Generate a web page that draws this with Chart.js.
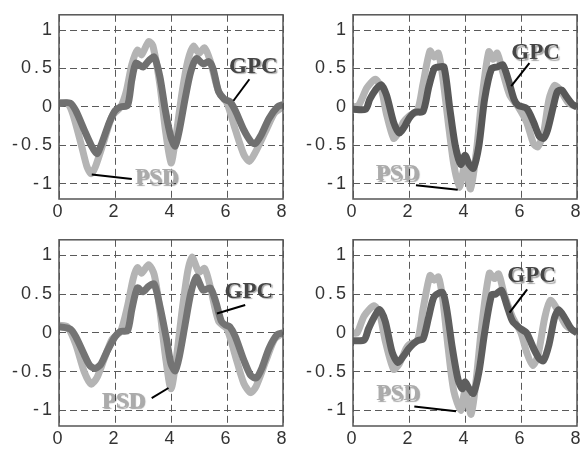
<!DOCTYPE html>
<html lang="en">
<head>
<meta charset="UTF-8">
<title>PSD vs GPC</title>
<script src="https://cdn.jsdelivr.net/npm/chart.js"></script>
<style>
  body { margin: 0; background: #fff; }
  #wrap { position: relative; width: 586px; height: 450px; }
  canvas { position: absolute; }
</style>
</head>
<body>
<div id="wrap">
  <canvas id="tl" width="293" height="225" style="left:0;top:0"></canvas>
  <canvas id="tr" width="293" height="225" style="left:293px;top:0"></canvas>
  <canvas id="bl" width="293" height="225" style="left:0;top:225px"></canvas>
  <canvas id="br" width="293" height="225" style="left:293px;top:225px"></canvas>
</div>
<script>
// tick values shared by all four panels
const xTicks = [0, 2, 4, 6, 8];
const yTicks = [-1, -0.5, 0, 0.5, 1];

// top left
const tlPsdX = [0, 0.3, 0.5, 0.8, 1.0, 1.15, 1.3, 1.6, 1.9, 2.2, 2.4, 2.6, 2.8, 2.95, 3.2, 3.35, 3.6, 3.8, 4.0, 4.15, 4.4, 4.6, 4.8, 5.0, 5.2, 5.4, 5.7, 6.0, 6.3, 6.6, 6.8, 7.0, 7.4, 7.7, 8.0];
const tlPsdY = [0.05, 0.05, -0.1, -0.5, -0.78, -0.87, -0.78, -0.45, -0.12, 0.0, 0.2, 0.55, 0.74, 0.68, 0.85, 0.8, 0.3, -0.3, -0.73, -0.45, 0.2, 0.6, 0.79, 0.7, 0.77, 0.6, 0.2, 0.05, -0.3, -0.62, -0.71, -0.6, -0.3, -0.08, 0.0];
const tlGpcX = [0, 0.4, 0.6, 0.9, 1.15, 1.35, 1.5, 1.8, 2.0, 2.2, 2.45, 2.6, 2.75, 3.0, 3.2, 3.4, 3.6, 3.8, 4.0, 4.15, 4.3, 4.5, 4.7, 4.9, 5.15, 5.35, 5.5, 5.7, 5.9, 6.1, 6.3, 6.6, 6.85, 7.0, 7.2, 7.5, 7.8, 8.0];
const tlGpcY = [0.05, 0.05, -0.05, -0.3, -0.5, -0.61, -0.5, -0.2, -0.05, 0.0, 0.02, 0.35, 0.57, 0.52, 0.6, 0.65, 0.4, -0.05, -0.4, -0.51, -0.3, 0.1, 0.45, 0.63, 0.56, 0.59, 0.5, 0.2, 0.1, 0.07, -0.05, -0.3, -0.45, -0.48, -0.38, -0.15, 0.0, 0.03];

// top right
const trPsdX = [0, 0.2, 0.5, 0.8, 1.0, 1.2, 1.45, 1.6, 1.8, 2.0, 2.3, 2.5, 2.75, 2.9, 3.05, 3.2, 3.4, 3.6, 3.8, 4.0, 4.2, 4.4, 4.6, 4.85, 5.0, 5.15, 5.35, 5.6, 5.9, 6.2, 6.45, 6.6, 6.8, 7.0, 7.2, 7.4, 7.7, 8.0];
const trPsdY = [0.0, 0.02, 0.25, 0.36, 0.25, -0.1, -0.41, -0.35, -0.2, -0.12, -0.05, 0.3, 0.73, 0.65, 0.7, 0.4, -0.2, -0.75, -1.05, -0.75, -1.07, -0.6, 0.1, 0.72, 0.62, 0.7, 0.45, 0.15, 0.0, -0.2, -0.48, -0.52, -0.35, 0.1, 0.28, 0.22, 0.05, 0.0];
const trGpcX = [0, 0.45, 0.6, 0.8, 1.0, 1.2, 1.45, 1.65, 1.85, 2.0, 2.2, 2.5, 2.7, 2.9, 3.05, 3.25, 3.45, 3.65, 3.85, 4.0, 4.15, 4.3, 4.5, 4.7, 4.95, 5.15, 5.35, 5.55, 5.75, 5.9, 6.2, 6.45, 6.65, 6.8, 6.95, 7.15, 7.3, 7.45, 7.65, 7.85, 8.0];
const trGpcY = [-0.03, -0.03, 0.1, 0.22, 0.29, 0.15, -0.2, -0.34, -0.25, -0.15, -0.07, -0.06, 0.25, 0.5, 0.52, 0.52, 0.0, -0.5, -0.75, -0.63, -0.75, -0.8, -0.5, 0.1, 0.5, 0.52, 0.55, 0.35, 0.1, 0.02, -0.02, -0.2, -0.38, -0.41, -0.3, 0.0, 0.2, 0.22, 0.12, 0.03, 0.0];

// bottom left
const blPsdX = [0, 0.3, 0.6, 0.9, 1.15, 1.35, 1.6, 1.9, 2.2, 2.45, 2.65, 2.8, 2.95, 3.2, 3.4, 3.6, 3.8, 4.0, 4.2, 4.4, 4.6, 4.75, 5.0, 5.2, 5.4, 5.7, 6.0, 6.3, 6.6, 6.85, 7.05, 7.4, 7.7, 8.0];
const blPsdY = [0.1, 0.08, -0.15, -0.5, -0.66, -0.58, -0.35, -0.08, 0.02, 0.35, 0.7, 0.84, 0.77, 0.88, 0.75, 0.3, -0.3, -0.72, -0.3, 0.3, 0.8, 0.98, 0.78, 0.83, 0.6, 0.15, 0.05, -0.3, -0.65, -0.77, -0.68, -0.35, -0.08, 0.0];
const blGpcX = [0, 0.4, 0.6, 0.9, 1.1, 1.3, 1.5, 1.7, 2.0, 2.2, 2.45, 2.6, 2.8, 3.0, 3.2, 3.4, 3.6, 3.85, 4.0, 4.15, 4.3, 4.5, 4.7, 4.9, 5.15, 5.4, 5.6, 5.8, 5.95, 6.1, 6.3, 6.6, 6.85, 7.05, 7.25, 7.5, 7.8, 8.0];
const blGpcY = [0.08, 0.05, -0.05, -0.28, -0.42, -0.46, -0.4, -0.25, -0.05, 0.02, 0.03, 0.3, 0.58, 0.53, 0.6, 0.63, 0.35, -0.1, -0.4, -0.49, -0.3, 0.1, 0.5, 0.72, 0.55, 0.58, 0.4, 0.15, 0.1, 0.08, -0.05, -0.35, -0.55, -0.58, -0.45, -0.2, -0.02, 0.0];

// bottom right
const brPsdX = [0, 0.15, 0.4, 0.75, 0.95, 1.15, 1.45, 1.65, 1.9, 2.0, 2.3, 2.5, 2.75, 2.9, 3.05, 3.2, 3.4, 3.6, 3.85, 4.0, 4.22, 4.4, 4.6, 4.87, 5.05, 5.2, 5.4, 5.7, 6.0, 6.2, 6.42, 6.6, 6.85, 7.05, 7.3, 7.6, 8.0];
const brPsdY = [0.0, 0.0, 0.22, 0.35, 0.25, -0.1, -0.47, -0.4, -0.2, -0.15, -0.1, 0.3, 0.74, 0.68, 0.72, 0.45, -0.2, -0.75, -1.0, -0.75, -1.05, -0.6, 0.1, 0.77, 0.7, 0.76, 0.5, 0.2, 0.0, -0.25, -0.42, -0.3, 0.2, 0.42, 0.3, 0.1, 0.0];
const brGpcX = [0, 0.4, 0.55, 0.75, 0.95, 1.15, 1.4, 1.6, 1.8, 2.0, 2.3, 2.5, 2.7, 2.9, 3.2, 3.35, 3.55, 3.75, 3.9, 4.0, 4.15, 4.3, 4.5, 4.7, 4.95, 5.1, 5.3, 5.5, 5.7, 6.0, 6.2, 6.45, 6.65, 6.8, 7.0, 7.2, 7.35, 7.55, 7.8, 8.0];
const brGpcY = [-0.1, -0.09, 0.05, 0.2, 0.3, 0.15, -0.25, -0.38, -0.3, -0.2, -0.1, -0.08, 0.2, 0.47, 0.52, 0.3, -0.2, -0.6, -0.72, -0.63, -0.72, -0.78, -0.5, 0.0, 0.49, 0.5, 0.55, 0.35, 0.15, 0.05, 0.0, -0.2, -0.33, -0.36, -0.15, 0.2, 0.3, 0.2, 0.05, 0.0];

// annotation: text x, text y, line from x,y to x,y (data units)
const tlGpcNote = [6.94, 0.52, 6.8, 0.36, 6.23, 0.08];
const tlPsdNote = [3.49, -0.93, 2.6, -0.94, 1.17, -0.88];
const trGpcNote = [6.52, 0.7, 6.3, 0.57, 5.65, 0.27];
const trPsdNote = [1.59, -0.88, 2.25, -1.02, 3.74, -1.08];
const blGpcNote = [6.78, 0.53, 6.65, 0.36, 5.64, 0.25];
const blPsdNote = [2.3, -0.89, 3.31, -0.84, 3.91, -0.71];
const brGpcNote = [6.38, 0.73, 6.22, 0.56, 5.59, 0.26];
const brPsdNote = [1.61, -0.79, 2.19, -0.95, 3.68, -1.01];

const psdColor = '#b4b4b4';
const tickFont = { family: '"Liberation Sans", Arial, sans-serif', size: 18 };

const pts = (xs, ys) => xs.map((x, i) => ({ x: x, y: ys[i] }));

// frame + labels with leader lines
const decor = {
  id: 'decor',
  beforeDraw(chart) {
    chart.ctx.letterSpacing = '3px';
  },
  beforeDatasetsDraw(chart) {
    chart.ctx.letterSpacing = '0px';
  },
  afterDraw(chart) {
    const ctx = chart.ctx, a = chart.chartArea;
    const sx = chart.scales.x, sy = chart.scales.y;
    ctx.save();
    ctx.letterSpacing = '0px';
    ctx.strokeStyle = '#555';
    ctx.lineWidth = 1.5;
    ctx.strokeRect(a.left, a.top, a.right - a.left, a.bottom - a.top);
    chart.options.plugins.decor.notes.forEach(n => {
      const v = n.v;
      ctx.strokeStyle = '#000';
      ctx.lineWidth = 2;
      ctx.beginPath();
      ctx.moveTo(sx.getPixelForValue(v[2]), sy.getPixelForValue(v[3]));
      ctx.lineTo(sx.getPixelForValue(v[4]), sy.getPixelForValue(v[5]));
      ctx.stroke();
      ctx.font = 'bold 23px "Liberation Serif", "Times New Roman", serif';
      ctx.textAlign = 'center';
      ctx.textBaseline = 'middle';
      ctx.shadowColor = 'rgba(0,0,0,0.35)';
      ctx.shadowOffsetX = 1.5;
      ctx.shadowOffsetY = 1.5;
      ctx.shadowBlur = 1;
      ctx.fillStyle = n.color;
      ctx.fillText(n.text, sx.getPixelForValue(v[0]), sy.getPixelForValue(v[1]));
      ctx.shadowColor = 'transparent';
    });
    ctx.restore();
  }
};

function makePanel(id, psdX, psdY, gpcX, gpcY, gpcColor, gpcNote, psdNote, box) {
  new Chart(document.getElementById(id), {
    type: 'line',
    data: {
      datasets: [
        { label: 'GPC', data: pts(gpcX, gpcY), borderColor: gpcColor, borderWidth: 7,
          pointRadius: 0, tension: 0.25, clip: 0, borderJoinStyle: 'round' },
        { label: 'PSD', data: pts(psdX, psdY), borderColor: psdColor, borderWidth: 7,
          pointRadius: 0, tension: 0.25, clip: 0, borderJoinStyle: 'round' }
      ]
    },
    options: {
      responsive: false,
      animation: false,
      layout: { padding: { top: box.top, right: box.right, left: 0, bottom: 0 } },
      plugins: {
        legend: { display: false },
        tooltip: { enabled: false },
        decor: { notes: [
          { text: 'GPC', color: '#454545', v: gpcNote },
          { text: 'PSD', color: '#ababab', v: psdNote }
        ] }
      },
      scales: {
        x: {
          type: 'linear', min: 0, max: 8,
          afterBuildTicks: s => { s.ticks = xTicks.map(v => ({ value: v })); },
          afterFit: s => { s.height = box.xh; },
          grid: { color: '#5a5a5a', lineWidth: 1, drawTicks: false },
          border: { display: false, dash: [7, 4] },
          ticks: { color: '#333', font: tickFont, padding: 2, maxRotation: 0, callback: v => String(v) }
        },
        y: {
          type: 'linear', min: -1.2, max: 1.2,
          afterBuildTicks: s => { s.ticks = yTicks.map(v => ({ value: v })); },
          afterFit: s => { s.width = box.left; },
          grid: { color: '#5a5a5a', lineWidth: 1, drawTicks: false },
          border: { display: false, dash: [7, 4] },
          ticks: { color: '#333', font: tickFont, padding: 4, callback: v => String(v) }
        }
      }
    },
    plugins: [decor]
  });
}

makePanel('tl', tlPsdX, tlPsdY, tlGpcX, tlGpcY, '#707070', tlGpcNote, tlPsdNote, { top: 10, right: 10, left: 59, xh: 26 });
makePanel('tr', trPsdX, trPsdY, trGpcX, trGpcY, '#585858', trGpcNote, trPsdNote, { top: 10, right: 9, left: 60, xh: 26 });
makePanel('bl', blPsdX, blPsdY, blGpcX, blGpcY, '#747474', blGpcNote, blPsdNote, { top: 12, right: 10, left: 59, xh: 24 });
makePanel('br', brPsdX, brPsdY, brGpcX, brGpcY, '#5e5e5e', brGpcNote, brPsdNote, { top: 12, right: 9, left: 60, xh: 24 });
</script>
</body>
</html>
